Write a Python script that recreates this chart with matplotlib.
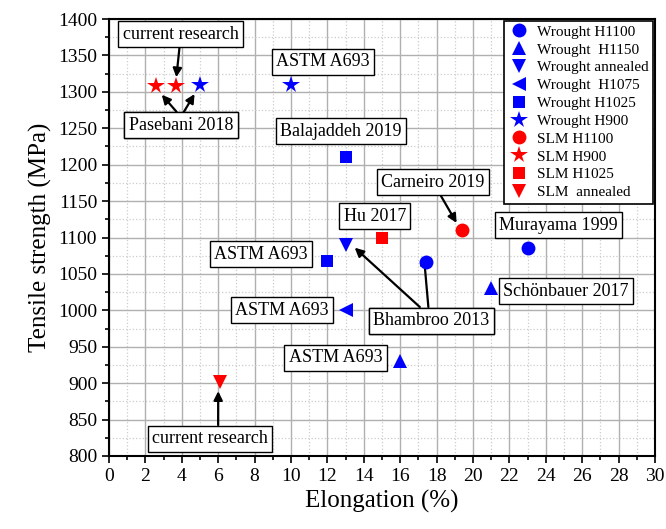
import matplotlib.pyplot as plt
from matplotlib.ticker import MultipleLocator

plt.rcParams['font.family'] = ['Liberation Serif', 'DejaVu Serif']

# elongation (%) / tensile strength (MPa) per condition
wr_h1100_x = [17.4, 23.0]
wr_h1100_y = [1067, 1085]
wr_h1150_x = [16.0, 21.0]
wr_h1150_y = [930, 1030]
wr_ann_x = [13.0]
wr_ann_y = [1090]
wr_h1075_x = [13.0]
wr_h1075_y = [1000]
wr_h1025_x = [12.0, 13.0]
wr_h1025_y = [1068, 1210]
wr_h900_x = [5.0, 10.0]
wr_h900_y = [1310, 1310]
slm_h1100_x = [19.4]
slm_h1100_y = [1110]
slm_h900_x = [2.6, 3.7]
slm_h900_y = [1308, 1308]
slm_h1025_x = [15.0]
slm_h1025_y = [1100]
slm_ann_x = [6.1]
slm_ann_y = [902]

series = [
    (wr_h1100_x, wr_h1100_y, 'o', 'blue', 'Wrought H1100'),
    (wr_h1150_x, wr_h1150_y, '^', 'blue', 'Wrought  H1150'),
    (wr_ann_x, wr_ann_y, 'v', 'blue', 'Wrought annealed'),
    (wr_h1075_x, wr_h1075_y, '<', 'blue', 'Wrought  H1075'),
    (wr_h1025_x, wr_h1025_y, 's', 'blue', 'Wrought H1025'),
    (wr_h900_x, wr_h900_y, '*', 'blue', 'Wrought H900'),
    (slm_h1100_x, slm_h1100_y, 'o', 'red', 'SLM H1100'),
    (slm_h900_x, slm_h900_y, '*', 'red', 'SLM H900'),
    (slm_h1025_x, slm_h1025_y, 's', 'red', 'SLM H1025'),
    (slm_ann_x, slm_ann_y, 'v', 'red', 'SLM  annealed'),
]

fig = plt.figure(figsize=(6.66, 5.29), dpi=100)
ax = fig.add_axes([109 / 666, 1 - 456 / 529, 546 / 666, 437 / 529])

sizes = {'o': 10, '^': 10.5, 'v': 10.5, '<': 10.5, 's': 9, '*': 13}
for x, y, m, c, lab in series:
    ax.plot(x, y, linestyle='none', marker=m, color=c, markersize=sizes[m],
            markeredgewidth=0, label=lab, zorder=5)

ax.set_xlim(0, 30)
ax.set_ylim(800, 1400)
ax.xaxis.set_major_locator(MultipleLocator(2))
ax.xaxis.set_minor_locator(MultipleLocator(1))
ax.yaxis.set_major_locator(MultipleLocator(50))
ax.yaxis.set_minor_locator(MultipleLocator(25))
ax.grid(which='major', color='#b0b0b0', linewidth=1.0)
ax.grid(which='minor', color='#cccccc', linestyle=':', linewidth=0.9)
ax.set_axisbelow(True)
ax.tick_params(which='both', direction='out', labelsize=14, width=1.2)
ax.tick_params(which='major', length=5)
ax.tick_params(which='minor', length=3)
for sp in ax.spines.values():
    sp.set_linewidth(1.5)

ax.set_xlabel('Elongation (%)', fontsize=18, labelpad=4)
ax.set_ylabel('Tensile strength (MPa)', fontsize=18, labelpad=4)

box = dict(boxstyle='square,pad=0.25', fc='white', ec='black', lw=1)
arrow = dict(arrowstyle='-|>', color='black', lw=1.6, mutation_scale=13,
             shrinkA=0, shrinkB=0)
arrow_top = dict(arrow, relpos=(0.5, 1.0))
fs = 13

# labels with arrows
ax.annotate('current research', xy=(3.7, 1320), xytext=(3.95, 1379),
            fontsize=fs, ha='center', va='center', bbox=box, arrowprops=arrow)
ax.annotate('Pasebani 2018', xy=(2.9, 1296), xytext=(3.95, 1254),
            fontsize=fs, ha='center', va='center', bbox=box, arrowprops=arrow_top)
ax.annotate('Pasebani 2018', xy=(4.7, 1297), xytext=(3.95, 1254),
            fontsize=fs, ha='center', va='center', bbox=box, arrowprops=arrow_top)
ax.annotate('Carneiro 2019', xy=(19.1, 1120), xytext=(17.8, 1176),
            fontsize=fs, ha='center', va='center', bbox=box, arrowprops=arrow)
ax.annotate('Bhambroo 2013', xy=(17.3, 1075), xytext=(17.7, 986),
            fontsize=fs, ha='center', va='center', bbox=box,
            arrowprops=dict(arrow, relpos=(0.48, 1.0)))
ax.annotate('Bhambroo 2013', xy=(13.5, 1086), xytext=(17.7, 986),
            fontsize=fs, ha='center', va='center', bbox=box,
            arrowprops=dict(arrow, relpos=(0.45, 1.0)))
ax.annotate('current research', xy=(6.0, 889), xytext=(5.55, 824),
            fontsize=fs, ha='center', va='center', bbox=box,
            arrowprops=dict(arrow, relpos=(0.57, 1.0)))

# plain boxed labels
ax.text(11.75, 1341, 'ASTM A693', fontsize=fs, ha='center', va='center', bbox=box)
ax.text(12.75, 1246, 'Balajaddeh 2019', fontsize=fs, ha='center', va='center', bbox=box)
ax.text(14.6, 1129, 'Hu 2017', fontsize=fs, ha='center', va='center', bbox=box)
ax.text(8.35, 1077, 'ASTM A693', fontsize=fs, ha='center', va='center', bbox=box)
ax.text(24.7, 1117, 'Murayama 1999', fontsize=fs, ha='center', va='center', bbox=box)
ax.text(25.1, 1026, 'Schönbauer 2017', fontsize=fs, ha='center', va='center', bbox=box)
ax.text(9.5, 1000, 'ASTM A693', fontsize=fs, ha='center', va='center', bbox=box)
ax.text(12.45, 935, 'ASTM A693', fontsize=fs, ha='center', va='center', bbox=box)

leg = ax.legend(loc='upper right', fontsize=11, frameon=True, fancybox=False,
                edgecolor='black', framealpha=1, borderpad=0.3, labelspacing=0.27,
                handletextpad=0.5, borderaxespad=0.1, handlelength=1.4)
leg.get_frame().set_linewidth(1.2)

fig.savefig('out.png', dpi=100)
